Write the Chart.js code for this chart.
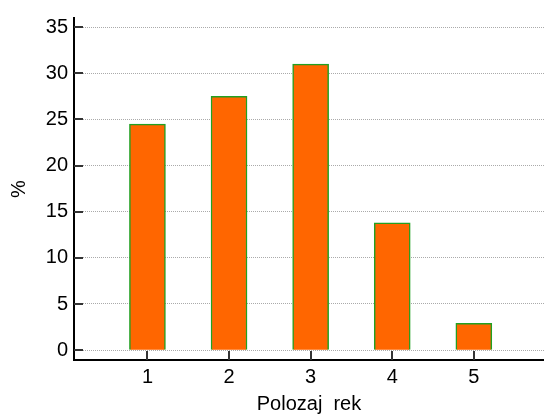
<!DOCTYPE html>
<html>
<head>
<meta charset="utf-8">
<script src="https://cdn.jsdelivr.net/npm/chart.js@4/dist/chart.umd.min.js"></script>
<style>
  html, body { margin: 0; padding: 0; background: #fff; }
</style>
</head>
<body>
<canvas id="chart" width="544" height="416"></canvas>
<script>
var positions = [1, 2, 3, 4, 5];
var percents = [24.5, 27.5, 31.0, 13.8, 2.9];
var yTicks = [0, 5, 10, 15, 20, 25, 30, 35];

// inward tick marks on both axes
var innerTicks = {
  id: 'innerTicks',
  afterDraw: function (chart) {
    var ctx = chart.ctx, a = chart.chartArea;
    var xs = chart.scales.x, ys = chart.scales.y;
    ctx.save();
    ctx.strokeStyle = '#333';
    ctx.lineWidth = 2;
    ctx.beginPath();
    yTicks.forEach(function (v) {
      var p = Math.round(ys.getPixelForValue(v));
      ctx.moveTo(a.left, p);
      ctx.lineTo(a.left + 9, p);
    });
    positions.forEach(function (v) {
      var p = Math.round(xs.getPixelForValue(v));
      ctx.moveTo(p, a.bottom);
      ctx.lineTo(p, a.bottom - 9);
    });
    ctx.stroke();
    ctx.restore();
  }
};

var font = { family: "'Liberation Sans', Arial, sans-serif", size: 20 };

new Chart(document.getElementById("chart"), {
  type: "bar",
  data: {
    datasets: [{
      data: positions.map(function (p, i) { return { x: p, y: percents[i] }; }),
      backgroundColor: "#ff6600",
      borderColor: "#22a022",
      borderWidth: 1.5,
      barThickness: 36
    }]
  },
  options: {
    responsive: false,
    animation: false,
    layout: { padding: { top: 15, right: 0, left: 0, bottom: 0 } },
    plugins: { legend: { display: false }, tooltip: { enabled: false } },
    scales: {
      x: {
        type: "linear",
        offset: false,
        min: 0.1,
        max: 5.86,
        afterBuildTicks: function (s) { s.ticks = positions.map(function (v) { return { value: v }; }); },
        afterFit: function (s) { s.height = 56; },
        grid: { display: false, drawTicks: false },
        border: { color: "#000", width: 2 },
        ticks: { color: "#000", padding: 5, font: font },
        title: {
          display: true,
          text: "Polozaj  rek",
          color: "#000",
          padding: { top: 0, bottom: 0 },
          font: font
        }
      },
      y: {
        min: -1.07,
        max: 36,
        afterBuildTicks: function (s) { s.ticks = yTicks.map(function (v) { return { value: v }; }); },
        afterFit: function (s) { s.width = 74; },
        grid: { color: "#aaa", lineWidth: 1, drawTicks: false },
        border: { color: "#000", width: 2, dash: [1, 1] },
        ticks: { color: "#000", padding: 6, font: font },
        title: {
          display: true,
          text: "%",
          color: "#000",
          padding: { top: 7, bottom: 0 },
          font: font
        }
      }
    }
  },
  plugins: [innerTicks]
});
</script>
</body>
</html>
